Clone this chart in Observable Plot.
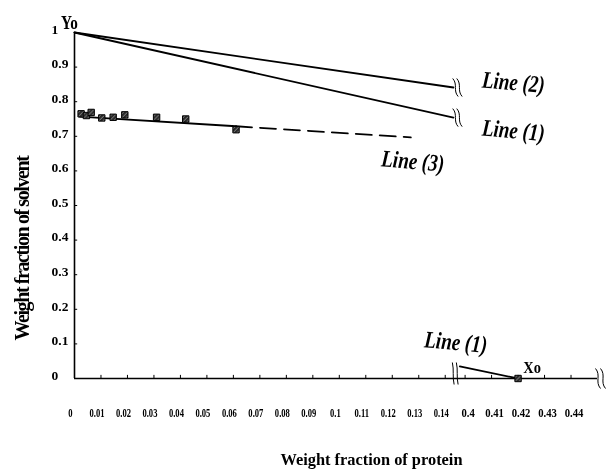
<!DOCTYPE html>
<html>
<head>
<meta charset="utf-8">
<script src="https://cdn.jsdelivr.net/npm/d3@7"></script>
<script src="https://cdn.jsdelivr.net/npm/@observablehq/plot@0.6"></script>
<style>
  html, body { margin: 0; padding: 0; background: #fff; }
  #chart { width: 606px; height: 469px; }
  #chart svg { font-family: "Liberation Serif", "Times New Roman", serif !important; will-change: transform; }
  #chart .ytitle text { letter-spacing: -1.4px; }
</style>
</head>
<body>
<div id="chart"></div>
<script>
// ---- tick values and labels ----
const yTicks = [0, 0.1, 0.2, 0.3, 0.4, 0.5, 0.6, 0.7, 0.8, 0.9, 1];
const yTickLabels = ["0", "0.1", "0.2", "0.3", "0.4", "0.5", "0.6", "0.7", "0.8", "0.9", "1"];
const xTicksLow = [0, 0.01, 0.02, 0.03, 0.04, 0.05, 0.06, 0.07, 0.08, 0.09, 0.1, 0.11, 0.12, 0.13, 0.14];
const xTickLabelsLow = ["0", "0.01", "0.02", "0.03", "0.04", "0.05", "0.06", "0.07", "0.08", "0.09", "0.1", "0.11", "0.12", "0.13", "0.14"];
const xTicksHigh = [0.4, 0.41, 0.42, 0.43, 0.44];
const xTickLabelsHigh = ["0.4", "0.41", "0.42", "0.43", "0.44"];

// ---- series ----
const line3X = [0.0025, 0.0045, 0.0063, 0.0103, 0.0146, 0.019, 0.031, 0.042, 0.061];
const line3Y = [0.765, 0.760, 0.769, 0.753, 0.755, 0.762, 0.755, 0.750, 0.719];
const line3FitX = [0.002, 0.061];
const line3FitY = [0.757, 0.729];
const line3DashX = [0.061, 0.127];
const line3DashY = [0.729, 0.697];
const line1X = [0, 0.1431];
const line1Y = [1, 0.754];
const line2X = [0, 0.1431];
const line2Y = [1, 0.841];
const line1LowX = [0.398, 0.42];
const line1LowY = [0.035, 0];
const xoX = [0.42];
const xoY = [0];

// ---- broken x axis ----
const breakFrom = 0.3, breakShift = 0.2525, xEnd = 0.45;
const bx = v => (v > breakFrom ? v - breakShift : v);
const pts = (xs, ys) => xs.map((x, i) => ({x: bx(x), y: ys[i]}));
const last = a => a[a.length - 1];

// break symbol: two wavy strokes, sheared
function squiggle(h, gap, amp, shear) {
  const P = (x, y) => [x + y * shear, y];
  return {
    draw(ctx) {
      for (const o of [-gap, gap]) {
        const a = P(o, -h), b = P(o + amp, -h / 3), c = P(o - amp, h / 3), d = P(o, h);
        ctx.moveTo(a[0], a[1]);
        ctx.bezierCurveTo(b[0], b[1], c[0], c[1], d[0], d[1]);
      }
    }
  };
}

const chart = Plot.plot({
  width: 606,
  height: 469,
  marginLeft: 74,
  marginRight: 9,
  marginTop: 32,
  marginBottom: 91,
  x: {domain: [0, bx(xEnd)], axis: null},
  y: {domain: [0, 1], axis: null},
  style: {background: "white", color: "black", overflow: "visible"},
  marks: [
    // axes
    Plot.ruleX([0], {y1: 0, y2: 1, stroke: "#000", strokeWidth: 1.6}),
    Plot.ruleY([0], {x1: 0, x2: bx(xEnd), stroke: "#000", strokeWidth: 1.6}),
    Plot.ruleY(yTicks.slice(1, -1), {x1: 0, x2: 0.0012, stroke: "#000", strokeWidth: 1}),
    Plot.ruleX([...xTicksLow.slice(1), ...xTicksHigh].map(bx), {y1: 0, y2: 0.009, stroke: "#000", strokeWidth: 1}),
    Plot.text(yTicks, {x: 0, y: d => d, text: (d, i) => yTickLabels[i], textAnchor: "start", dx: -23, dy: -3,
      fontSize: 13.5, fontWeight: "bold", fill: "#000"}),
    Plot.text(xTicksLow, {x: bx, y: 0, text: (d, i) => xTickLabelsLow[i], dx: -4, dy: 34,
      fontSize: 13, fontWeight: "bold", fill: "#000", className: "xlo"}),
    Plot.text(xTicksHigh, {x: bx, y: 0, text: (d, i) => xTickLabelsHigh[i], dx: 3, dy: 34,
      fontSize: 13, fontWeight: "bold", fill: "#000", className: "xhi"}),
    // axis breaks
    Plot.dot([0], {x: [bx(last(xTicksLow))], y: [0], dx: 10, dy: -5, r: 5,
      symbol: squiggle(11, 2, 1.2, 0.08), fill: "none", stroke: "#000", strokeWidth: 1}),
    Plot.dot([0], {x: [bx(xEnd)], y: [0], dx: 3, dy: 0, r: 5,
      symbol: squiggle(10, 2.5, 4, 0.25), fill: "none", stroke: "#000", strokeWidth: 1}),
    // lines
    Plot.line(pts(line2X, line2Y), {x: "x", y: "y", stroke: "#000", strokeWidth: 1.8}),
    Plot.line(pts(line1X, line1Y), {x: "x", y: "y", stroke: "#000", strokeWidth: 1.8}),
    Plot.line(pts(line1LowX, line1LowY), {x: "x", y: "y", stroke: "#000", strokeWidth: 1.8}),
    Plot.line(pts(line3FitX, line3FitY), {x: "x", y: "y", stroke: "#000", strokeWidth: 1.8}),
    Plot.line(pts(line3DashX, line3DashY), {x: "x", y: "y", stroke: "#000", strokeWidth: 1.8, strokeDasharray: "16,8"}),
    // line-end breaks
    Plot.dot([0, 1], {x: [bx(last(line2X)), bx(last(line1X))], y: [last(line2Y), last(line1Y)], dx: 4, dy: 0, r: 5,
      symbol: squiggle(9, 2, 3.5, 0.3), fill: "none", stroke: "#000", strokeWidth: 1}),
    // markers
    Plot.dot(pts(line3X, line3Y), {x: "x", y: "y", symbol: "square", r: 3.6, fill: "url(#hatch)", stroke: "#000", strokeWidth: 1}),
    Plot.dot(pts(xoX, xoY), {x: "x", y: "y", symbol: "square", r: 3.6, fill: "url(#hatch)", stroke: "#000", strokeWidth: 1}),
    // line labels
    Plot.text(["Line (2)"], {x: [bx(last(line2X))], y: [last(line2Y)], dx: 60, dy: -5, rotate: 5,
      fontSize: 24, fontWeight: "bold", fontStyle: "italic", fill: "#000", className: "lbl"}),
    Plot.text(["Line (1)"], {x: [bx(last(line1X))], y: [last(line1Y)], dx: 60, dy: 13, rotate: 5,
      fontSize: 24, fontWeight: "bold", fontStyle: "italic", fill: "#000", className: "lbl"}),
    Plot.text(["Line (3)"], {x: [bx(last(line3DashX))], y: [last(line3DashY)], dx: 2, dy: 24, rotate: 5,
      fontSize: 24, fontWeight: "bold", fontStyle: "italic", fill: "#000", className: "lbl"}),
    Plot.text(["Line (1)"], {x: [bx(line1LowX[0])], y: [line1LowY[0]], dx: -4, dy: -24, rotate: 5,
      fontSize: 24, fontWeight: "bold", fontStyle: "italic", fill: "#000", className: "lbl"}),
    Plot.text(["Yo"], {x: [0], y: [1], dx: -5, dy: -10, fontSize: 19, fontWeight: "bold", fill: "#000", className: "yo"}),
    Plot.text(["Xo"], {x: [bx(xoX[0])], y: [xoY[0]], dx: 14, dy: -11, fontSize: 17, fontWeight: "bold", fill: "#000", className: "xo"}),
    // axis titles
    Plot.text(["Weight fraction of solvent"], {frameAnchor: "left", textAnchor: "middle", lineAnchor: "middle",
      rotate: -90, dx: -52, dy: 43, fontSize: 20, fontWeight: "bold", fill: "#000", className: "ytitle"}),
    Plot.text(["Weight fraction of protein"], {frameAnchor: "bottom", textAnchor: "middle", lineAnchor: "middle",
      dx: 35.5, dy: 81, fontSize: 17.5, fontWeight: "bold", fill: "#000", className: "xtitle"})
  ]
});

document.getElementById("chart").append(chart);

const svg = d3.select(chart);
svg.insert("defs", ":first-child").html(
  '<pattern id="hatch" patternUnits="userSpaceOnUse" width="4" height="4">' +
  '<rect width="4" height="4" fill="#2a2a2a"/>' +
  '<path d="M0,4 L4,0" stroke="#a0a0a0" stroke-width="0.8"/></pattern>'
);

function condense(cls, f) {
  svg.selectAll(`.${cls} text`).each(function() {
    const L = this.getComputedTextLength();
    this.setAttribute("textLength", (L * f).toFixed(1));
    this.setAttribute("lengthAdjust", "spacingAndGlyphs");
  });
}
function setLength(cls, px) {
  svg.selectAll(`.${cls} text`).each(function() {
    this.setAttribute("textLength", px);
    this.setAttribute("lengthAdjust", "spacingAndGlyphs");
  });
}
condense("xlo", 0.66);
condense("xhi", 0.82);
setLength("lbl", 63);
condense("yo", 0.8);
condense("xo", 0.85);
setLength("xtitle", 182);
</script>
</body>
</html>
